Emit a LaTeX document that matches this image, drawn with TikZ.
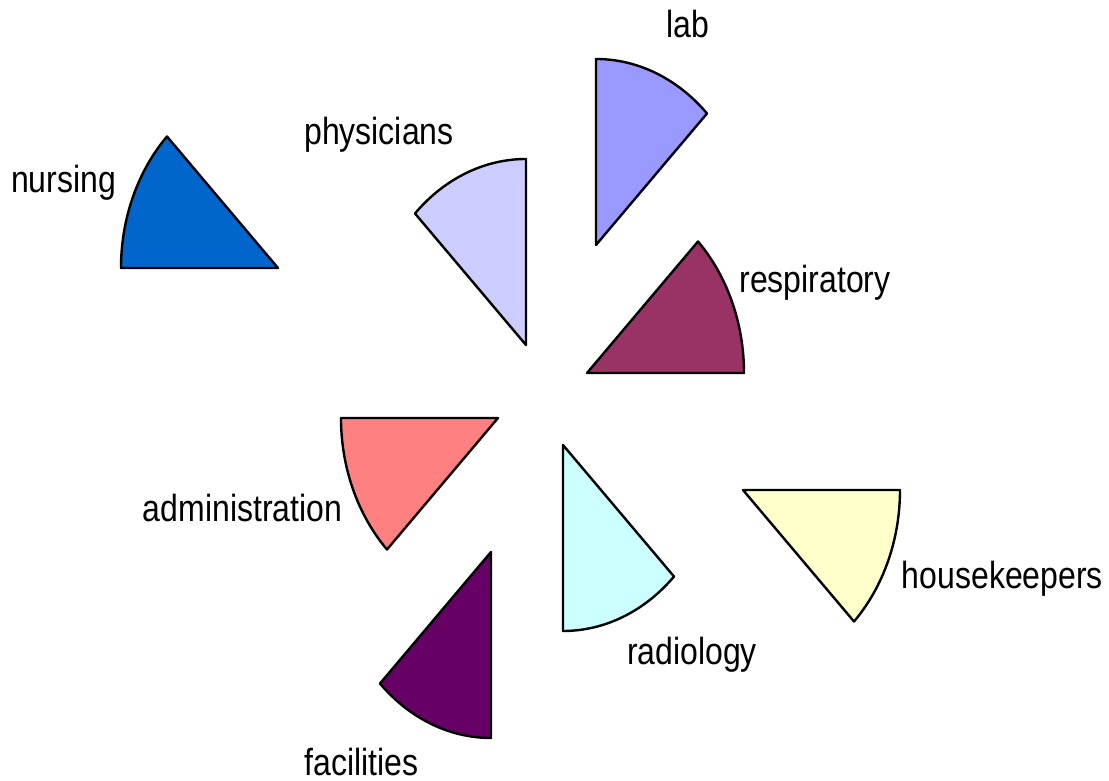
\documentclass[tikz,border=0pt]{standalone}
\usepackage{fontspec}
\setmainfont{Liberation Sans}
\definecolor{nursingblue}{HTML}{0066CC}
\definecolor{physicianslilac}{HTML}{CCCCFF}
\definecolor{labblue}{HTML}{9999FF}
\definecolor{respiratoryplum}{HTML}{993366}
\definecolor{adminsalmon}{HTML}{FF8080}
\definecolor{facilitiespurple}{HTML}{660066}
\definecolor{radiologycyan}{HTML}{CCFFFF}
\definecolor{housekeepersyellow}{HTML}{FFFFCC}
\begin{document}
\begin{tikzpicture}[x=1pt, y=1pt,
    slice/.style={draw=black, line width=2.4pt, line join=round, x radius=157pt, y radius=186pt},
    tag/.style={anchor=base, inner sep=0pt, font=\fontsize{32}{38}\selectfont, yscale=1.18, transform shape}]
			% Exploded pie of hospital staff groups
			\useasboundingbox (-545,-386) rectangle (564,395);
			
			\coordinate (respiratory) at (42,22);
			\coordinate (lab) at (51,150);
			\coordinate (physicians) at (-19,50);
			\coordinate (nursing) at (-267,127);
			\coordinate (administration) at (-47,-23);
			\coordinate (facilities) at (-54,-157);
			\coordinate (radiology) at (18,-50);
			\coordinate (housekeepers) at (198,-95);
			
			\draw[slice, fill=respiratoryplum] (respiratory) -- ++(0:157pt and 186pt) arc[start angle=0, end angle=45] -- cycle;
			\draw[slice, fill=labblue] (lab) -- ++(45:157pt and 186pt) arc[start angle=45, end angle=90] -- cycle;
			\draw[slice, fill=physicianslilac] (physicians) -- ++(90:157pt and 186pt) arc[start angle=90, end angle=135] -- cycle;
			\draw[slice, fill=nursingblue] (nursing) -- ++(135:157pt and 186pt) arc[start angle=135, end angle=180] -- cycle;
			\draw[slice, fill=adminsalmon] (administration) -- ++(180:157pt and 186pt) arc[start angle=180, end angle=225] -- cycle;
			\draw[slice, fill=facilitiespurple] (facilities) -- ++(225:157pt and 186pt) arc[start angle=225, end angle=270] -- cycle;
			\draw[slice, fill=radiologycyan] (radiology) -- ++(270:157pt and 186pt) arc[start angle=270, end angle=315] -- cycle;
			\draw[slice, fill=housekeepersyellow] (housekeepers) -- ++(315:157pt and 186pt) arc[start angle=315, end angle=360] -- cycle;
			
			\node[tag] (lab label) at (142.5,357) {lab};
			\node[tag] (physicians label) at (-166,250) {physicians};
			\node[tag] (nursing label) at (-481.5,202) {nursing};
			\node[tag] (respiratory label) at (270,102) {respiratory};
			\node[tag] (administration label) at (-302.5,-127) {administration};
			\node[tag] (housekeepers label) at (457.5,-194) {housekeepers};
			\node[tag] (radiology label) at (147,-270) {radiology};
			\node[tag] (facilities label) at (-183.5,-380) {facilities};
		\end{tikzpicture}
\end{document}
